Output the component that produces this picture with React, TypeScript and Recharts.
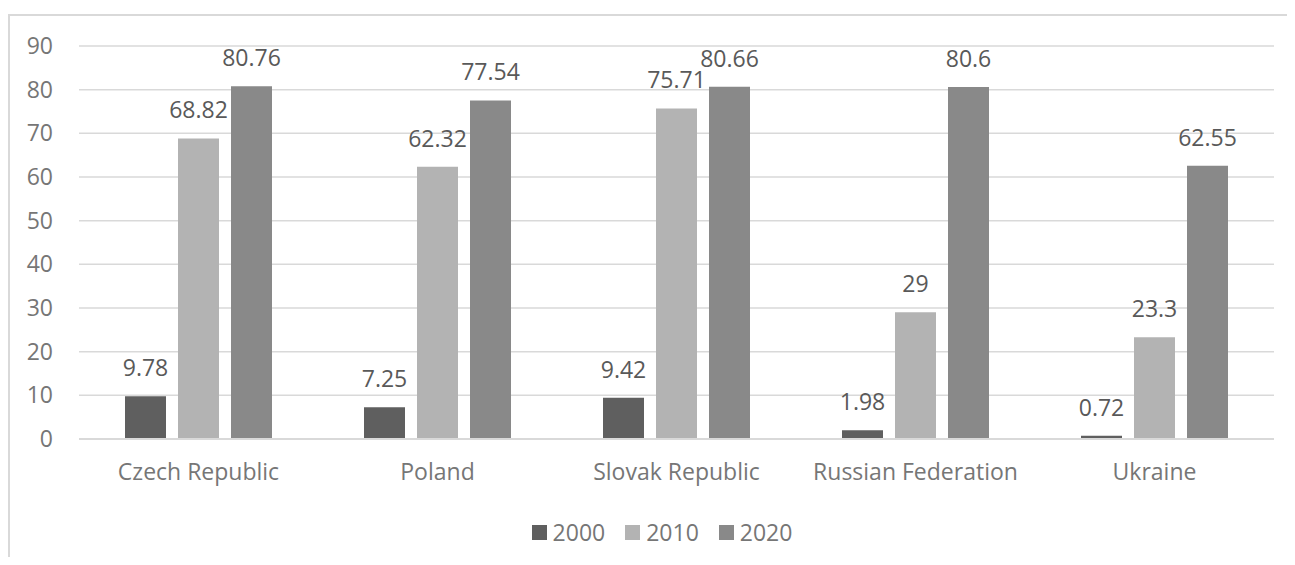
import React from 'react';
import { BarChart, Bar, XAxis, YAxis, CartesianGrid, LabelList, Legend } from 'recharts';

const categories = ['Czech Republic', 'Poland', 'Slovak Republic', 'Russian Federation', 'Ukraine'];
const values2000 = [9.78, 7.25, 9.42, 1.98, 0.72];
const values2010 = [68.82, 62.32, 75.71, 29, 23.3];
const values2020 = [80.76, 77.54, 80.66, 80.6, 62.55];
const yTicks = [0, 10, 20, 30, 40, 50, 60, 70, 80, 90];

const seriesInfo = [
  { key: 'y2000', name: '2000', color: '#5f5f5f' },
  { key: 'y2010', name: '2010', color: '#b3b3b3' },
  { key: 'y2020', name: '2020', color: '#898989' },
];

const data = categories.map((c, i) => ({
  category: c,
  y2000: values2000[i],
  y2010: values2010[i],
  y2020: values2020[i],
}));

const FONT = '"Open Sans", sans-serif';
const FS = 23;

const LegendContent = () => (
  <div
    style={{
      display: 'flex',
      justifyContent: 'center',
      alignItems: 'center',
      height: 30,
      paddingLeft: 21,
      fontFamily: FONT,
      fontSize: FS,
      color: '#767676',
    }}
  >
    {seriesInfo.map((s) => (
      <div key={s.key} style={{ display: 'flex', alignItems: 'center', margin: '0 10px' }}>
        <div style={{ width: 15, height: 15, background: s.color, marginRight: 6 }} />
        <span style={{ lineHeight: '30px' }}>{s.name}</span>
      </div>
    ))}
  </div>
);

export default function App() {
  return (
    <div style={{ position: 'relative', width: 1279, height: 549 }}>
      <div
        style={{
          position: 'absolute',
          left: 0,
          top: 6,
          width: 1287,
          height: 551,
          boxSizing: 'border-box',
          borderTop: '2px solid #d9d9d9',
          borderLeft: '2px solid #d9d9d9',
        }}
      />
      <div style={{ position: 'absolute', left: 0, top: 0 }}>
        <BarChart
          width={1287}
          height={557}
          data={data}
          margin={{ top: 38, right: 21, left: 0, bottom: 56 }}
          barSize={41}
          barGap={12}
          style={{ fontFamily: FONT }}
        >
          <CartesianGrid vertical={false} stroke="#d9d9d9" strokeWidth={1.5} />
          <XAxis
            dataKey="category"
            height={40}
            tickLine={false}
            tickSize={0}
            tickMargin={25}
            axisLine={{ stroke: '#d9d9d9', strokeWidth: 2 }}
            tick={{ fill: '#767676', fontSize: FS, fontFamily: FONT }}
            interval={0}
          />
          <YAxis
            width={71}
            domain={[0, 90]}
            ticks={yTicks}
            interval={0}
            axisLine={false}
            tickLine={false}
            tickSize={0}
            tickMargin={26}
            tick={{ fill: '#767676', fontSize: FS, fontFamily: FONT }}
          />
          <Legend
            verticalAlign="bottom"
            content={<LegendContent />}
            wrapperStyle={{ left: 0, top: 509, width: 1287, height: 30 }}
          />
          {seriesInfo.map((s) => (
            <Bar key={s.key} dataKey={s.key} name={s.name} fill={s.color} isAnimationActive={false}>
              <LabelList
                dataKey={s.key}
                position="top"
                offset={20}
                fill="#595959"
                fontSize={FS}
                fontFamily={FONT}
              />
            </Bar>
          ))}
        </BarChart>
      </div>
    </div>
  );
}
